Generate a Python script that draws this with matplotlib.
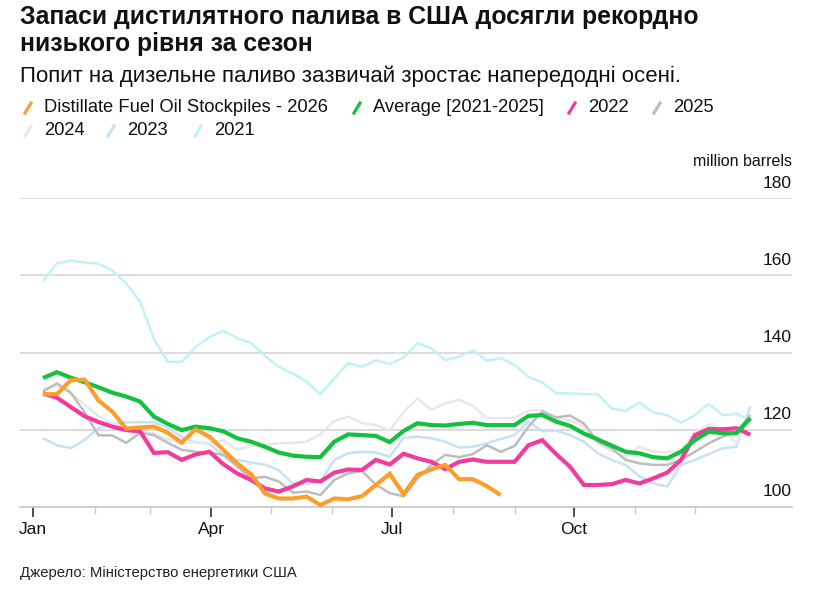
import matplotlib
matplotlib.use("Agg")
import matplotlib.pyplot as plt
import matplotlib.dates as mdates
import matplotlib.transforms as mtransforms
from matplotlib.lines import Line2D
import pandas as pd

# weekly points, plotted on a seasonal (single-year) axis
week_dates = pd.date_range("2026-01-06", periods=52, freq="7D")

stocks_2026 = [129.2, 129.2, 132.8, 133.0, 127.6, 124.7, 120.3, 120.6, 120.8, 119.2,
               116.7, 120.1, 118.2, 114.8, 111.3, 108.5, 103.5, 102.2, 102.2, 102.7,
               100.5, 102.2, 102.0, 102.8, 105.7, 108.6, 103.3, 108.3, 109.7, 110.9,
               107.2, 107.2, 105.4, 103.1]
average = [133.4, 134.9, 133.5, 132.3, 131.0, 129.6, 128.6, 127.3, 123.4, 121.5,
           119.9, 120.8, 120.4, 119.6, 117.8, 116.9, 115.6, 114.1, 113.3, 113.0,
           112.9, 116.9, 118.8, 118.6, 118.4, 116.8, 119.7, 121.7, 121.2, 121.1,
           121.5, 121.8, 121.2, 121.2, 121.2, 123.6, 123.8, 122.1, 121.0, 119.0,
           117.5, 115.9, 114.3, 113.9, 112.9, 112.6, 114.3, 117.3, 119.5, 119.1,
           119.1, 123.0]
y2022 = [129.4, 128.3, 125.9, 123.5, 122.0, 120.8, 119.9, 119.6, 114.0, 114.2,
         112.2, 113.6, 114.3, 111.1, 108.7, 107.0, 104.8, 104.0, 105.3, 107.0,
         106.6, 108.9, 109.7, 109.6, 112.2, 111.0, 113.8, 112.6, 111.7, 109.8,
         111.7, 112.3, 111.7, 111.7, 111.7, 116.0, 117.3, 113.7, 110.4, 105.7,
         105.7, 105.9, 107.0, 106.1, 107.4, 108.9, 112.2, 118.6, 120.2, 120.1,
         120.4, 118.7]
y2025 = [129.9, 132.0, 129.6, 124.5, 118.6, 118.5, 116.6, 119.2, 118.6, 116.6,
         114.8, 114.3, 114.1, 113.5, 110.5, 107.4, 107.8, 106.6, 103.7, 104.0,
         103.1, 107.0, 108.7, 109.3, 105.8, 103.6, 102.8, 107.4, 110.9, 113.5,
         112.9, 113.7, 116.0, 114.3, 115.8, 120.8, 124.7, 123.2, 123.7, 121.6,
         116.9, 115.2, 112.2, 111.3, 110.9, 110.9, 112.2, 114.3, 116.5, 118.2,
         119.5, 123.8]
y2024 = [130.5, 131.5, 129.5, 126.5, 123.5, 121.5, 120.5, 119.5, 119.0, 117.5,
         116.5, 116.8, 116.5, 117.3, 114.8, 115.8, 116.1, 116.5, 116.6, 116.9,
         118.8, 122.3, 123.4, 121.7, 121.2, 119.9, 124.6, 128.1, 125.1, 126.8,
         127.8, 126.2, 123.0, 123.0, 123.0, 125.0, 125.1, 122.8, 122.5, 120.8,
         116.5, 114.5, 113.0, 115.6, 114.3, 114.2, 114.5, 119.5, 121.2, 120.3,
         116.5, 123.8]
y2023 = [117.8, 116.0, 115.2, 117.4, 120.4, 121.5, 121.9, 122.0, 121.9, 120.5,
         118.1, 116.7, 116.4, 113.4, 112.2, 111.5, 111.0, 109.5, 106.1, 106.0,
         106.6, 112.2, 113.9, 114.3, 114.1, 113.0, 117.9, 118.2, 117.8, 116.9,
         115.4, 115.6, 116.5, 117.6, 118.6, 122.1, 119.6, 119.8, 118.6, 116.9,
         113.9, 112.2, 110.9, 107.9, 106.1, 105.3, 110.9, 112.2, 113.7, 115.2,
         115.6, 126.1]
y2021 = [158.5, 163.1, 163.8, 163.3, 163.0, 161.2, 157.9, 153.2, 143.5, 137.6,
         137.6, 141.4, 144.0, 145.6, 143.7, 142.5, 139.1, 136.3, 134.6, 132.4,
         129.2, 133.3, 137.2, 136.3, 138.0, 137.0, 138.7, 142.4, 141.1, 138.0,
         138.9, 140.6, 137.9, 138.5, 136.8, 133.7, 132.2, 129.4, 129.4, 129.2,
         129.2, 125.5, 124.9, 127.0, 124.5, 123.8, 121.8, 123.8, 126.7, 123.8,
         124.1, 122.5]

y_ticks = [100, 120, 140, 160, 180]
major_months = pd.date_range("2026-01-01", "2026-12-31", freq="QS")
minor_months = pd.date_range("2026-01-01", "2026-12-31", freq="MS").difference(major_months)

# background years first, highlighted series on top
series = [
    ("2021", y2021, "#c4f0f8", 1.8),
    ("2023", y2023, "#c8e1f6", 1.8),
    ("2024", y2024, "#e8e8e8", 1.8),
    ("2025", y2025, "#bdbdbd", 1.8),
    ("2022", y2022, "#f03c9d", 3.0),
    ("Average [2021-2025]", average, "#14c03f", 3.0),
    ("Distillate Fuel Oil Stockpiles - 2026", stocks_2026, "#fb9e2c", 3.0),
]

plt.rcParams["font.family"] = ["Liberation Sans", "DejaVu Sans"]

W, H = 835, 600
fig = plt.figure(figsize=(W / 100, H / 100), dpi=100)
ax = fig.add_axes([20 / W, 1 - 507 / H, (792 - 20) / W, (507 - 198) / H])

for label, vals, color, lw in series:
    ax.plot(week_dates[:len(vals)], vals, color=color, lw=lw,
            solid_joinstyle="miter", solid_capstyle="butt", zorder=3)

ax.set_ylim(100, 180)
ax.set_xlim(pd.Timestamp("2026-01-01") - pd.Timedelta(days=6.6),
            pd.Timestamp("2026-01-01") + pd.Timedelta(days=383))

for s in ["top", "right", "left"]:
    ax.spines[s].set_visible(False)
ax.spines["bottom"].set_color("#c8c8c8")
ax.spines["bottom"].set_linewidth(1.2)

ax.set_yticks(y_ticks)
ax.tick_params(axis="y", left=False, labelleft=False)
ax.grid(axis="y", color="#d2d2d2", lw=1.1, zorder=1)

# y labels sit above their gridlines, right-aligned inside the plot
lab_tr = mtransforms.offset_copy(
    mtransforms.blended_transform_factory(ax.transAxes, ax.transData),
    fig=fig, x=0, y=15, units="dots")
for v in y_ticks:
    ax.text(1.0, v, str(v), transform=lab_tr, ha="right", va="center",
            fontsize=12.5, color="#111")
ax.text(1.0, 1.0, "million barrels", transform=mtransforms.offset_copy(
    ax.transAxes, fig=fig, x=0, y=36, units="dots"),
    ha="right", va="center", fontsize=11.5, color="#111")

ax.set_xticks(major_months)
ax.set_xticks(minor_months, minor=True)
ax.xaxis.set_major_formatter(mdates.DateFormatter("%b"))
ax.tick_params(axis="x", which="major", length=7, width=1.1, color="#222",
               labelsize=12.5, pad=4, labelcolor="#111")
ax.tick_params(axis="x", which="minor", length=5, width=1, color="#c8c8c8")

# title block
fig.text(20 / W, 1 - 17 / H, "Запаси дистилятного палива в США досягли рекордно",
         fontsize=17.8, fontweight="bold", va="center", color="#111")
fig.text(20 / W, 1 - 44 / H, "низького рівня за сезон",
         fontsize=17.8, fontweight="bold", va="center", color="#111")
fig.text(20 / W, 1 - 76 / H, "Попит на дизельне паливо зазвичай зростає напередодні осені.",
         fontsize=16, va="center", color="#111")

# legend: slash marker + label, flowing layout
legend_items = [
    (series[6], 25, 108), (series[5], 354, 108), (series[4], 569, 108),
    (series[3], 654, 108), (series[2], 25, 131), (series[1], 108, 131),
    (series[0], 195, 131),
]
for (label, _, color, _), x, y in legend_items:
    fig.add_artist(Line2D([x / W, (x + 6) / W], [1 - (y + 5) / H, 1 - (y - 5) / H],
                          color=color, lw=2.3, transform=fig.transFigure))
    fig.text((x + 19) / W, 1 - y / H, label, fontsize=13.2, va="center", color="#111")

fig.text(20 / W, 1 - 573 / H, "Джерело: Міністерство енергетики США",
         fontsize=10.7, va="center", color="#222")

fig.savefig("out.png", dpi=100)
plt.close(fig)
